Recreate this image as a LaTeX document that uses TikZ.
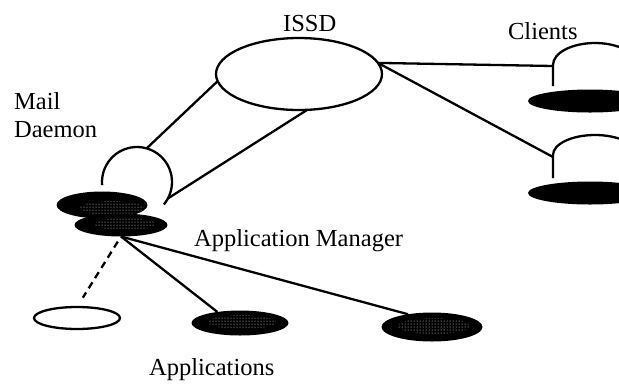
\documentclass[tikz,border=0pt]{standalone}
\usepackage{fontspec}
\setmainfont{Liberation Serif}
\usetikzlibrary{shapes.geometric,patterns}
\begin{document}
\begin{tikzpicture}[x=1pt,y=-1pt,line width=2.3pt,
  lbl/.style={font=\fontsize{24.5}{28}\selectfont, inner sep=0pt},
  openell/.style={ellipse, draw, line width=2.3pt, inner sep=0pt, outer sep=0pt},
  darkell/.style={ellipse, fill=black, inner sep=0pt, outer sep=0pt},
  speckle/.style={pattern=dots, pattern color=white!90!black},
  conn/.style={line width=2.3pt},
  dashconn/.style={line width=2.3pt, dash pattern=on 7pt off 5pt}]
\useasboundingbox (0,0) rectangle (619,384);
\clip (0,0) rectangle (619,384);

% ISSD
\node[openell, minimum width=166pt, minimum height=72pt] (issd) at (299,74) {};
\node[lbl, anchor=base west] (issdl) at (282,31) {ISSD};

% Clients
\node[lbl, anchor=base west] (clientsl) at (507,39) {Clients};
\coordinate (cl1) at (553,66);
\coordinate (cl2) at (553,157);
\draw (553,86) -- (553,65) arc[start angle=180, end angle=360, x radius=42, y radius=22];
\draw (553,178) -- (553,155) arc[start angle=180, end angle=360, x radius=42, y radius=20];
\node[darkell, minimum width=124pt, minimum height=23pt] (c1e) at (590,101) {};
\node[darkell, minimum width=124pt, minimum height=23pt] (c2e) at (590,193) {};

% Mail daemon
\node[lbl, anchor=base west, align=left] (maill) at (13,137) {Mail\\Daemon};
\node[circle, minimum size=70pt, inner sep=0pt, outer sep=0pt] (md) at (137,182) {};
\draw ([shift={(175:35)}]137,182) arc[start angle=175, end angle=400, radius=35];
\node[darkell, minimum width=91pt, minimum height=27pt] (mdu) at (102,205) {};
\fill[speckle] (112,208) ellipse [x radius=32, y radius=7];
\node[darkell, minimum width=93pt, minimum height=23pt] (am) at (121,225) {};
\fill[speckle] (125,224) ellipse [x radius=30, y radius=6];

% Application manager
\node[lbl, anchor=base west] (aml) at (193,246) {Application Manager};

% Applications
\node[openell, minimum width=86pt, minimum height=22pt] (app1) at (77,318) {};
\node[darkell, minimum width=97pt, minimum height=25pt] (app2) at (240,323) {};
\fill[speckle] (242,322) ellipse [x radius=34, y radius=7];
\node[darkell, minimum width=101pt, minimum height=29pt] (app3) at (432,327) {};
\fill[speckle] (434,326) ellipse [x radius=36, y radius=8];
\node[lbl, anchor=base west] (appsl) at (148,375) {Applications};

% Connectors
\draw[conn] (issd.8) -- (cl1);
\draw[conn] (issd.8) -- (cl2);
\draw[conn] (issd.185) -- (md.74);
\draw[conn] (issd.283) -- (md.-28);
\draw[dashconn, shorten <=6pt, shorten >=11pt] (am.south) -- (app1.north);
\draw[conn] (am.south) -- (app2.154);
\draw[conn] (am.south) -- (app3.152);
\end{tikzpicture}
\end{document}
